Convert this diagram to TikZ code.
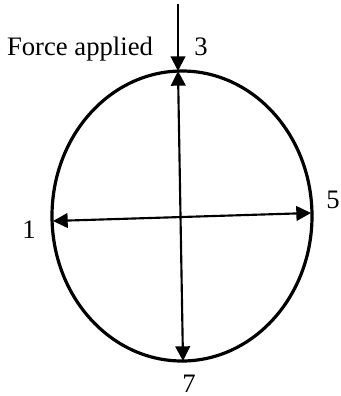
\documentclass[tikz,border=0pt]{standalone}
\usepackage{fontspec}
\setmainfont{Liberation Serif}
\usetikzlibrary{arrows.meta}
\tikzset{
  rim/.style={line width=2.4pt},
  axis/.style={line width=1.6pt,{Triangle[width=11pt,length=11pt]}-{Triangle[width=11pt,length=11pt]}},
  push/.style={line width=1.6pt,-{Triangle[width=11pt,length=11pt]}},
  lbl/.style={inner sep=0pt,anchor=base,font=\fontsize{20}{24}\selectfont}
}

\begin{document}
\begin{tikzpicture}[x=0.75pt,y=-0.75pt]
  \useasboundingbox (0,0) rectangle (340,396);
  % outline of the specimen
  \draw[rim] (182,216) ellipse [x radius=130,y radius=145];
  % end points on the rim
  \coordinate (p1) at (53,221);
  \coordinate (p3) at (178,71);
  \coordinate (p5) at (311,213);
  \coordinate (p7) at (183,361);
  \coordinate (top) at (178,4);
  % labels
  \node[lbl] (force) at (80,55) {Force applied};
  \node[lbl] (n3) at (201,55) {3};
  \node[lbl] (n1) at (29,238) {1};
  \node[lbl,anchor=base west] (n5) at (326,208) {5};
  \node[lbl] (n7) at (189,392) {7};
  % arrows
  \draw[push] (top) -- (p3);
  \draw[axis] (p3) -- (p7);
  \draw[axis] (p1) -- (p5);
\end{tikzpicture}
\end{document}
